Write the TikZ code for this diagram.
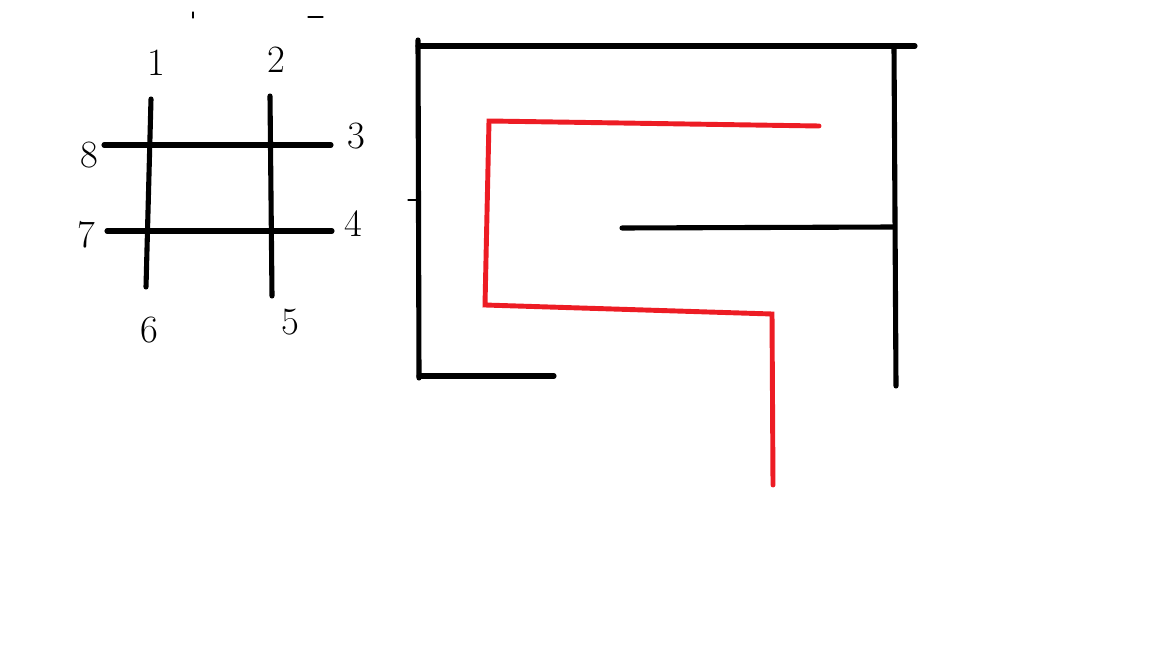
\documentclass[tikz,border=0pt]{standalone}
\usepackage{tikz}
\usetikzlibrary{positioning}
\definecolor{PathRed}{HTML}{ED1C24}
\begin{document}
\begin{tikzpicture}[x=0.02cm,y=-0.02cm,line cap=round,
    wall/.style={line width=2.9pt,black},
    grid/.style={line width=2.9pt,black},
    route/.style={line width=2.8pt,PathRed,line join=miter},
    stray/.style={line width=0.7pt,black},
    num/.style={font=\fontsize{22}{26}\selectfont,inner sep=0pt}]
  \useasboundingbox[fill=white] (0,0) rectangle (1152,648);
  % stray marks
  \draw[stray] (193,12) -- (193,18);
  \draw[stray] (308,17) -- (323,17);
  \draw[stray] (408,200) -- (418,200);
  % grid
  \draw[grid] (151,99) -- (146,287);
  \draw[grid] (270,96) -- (272,296);
  \draw[grid] (104,145) -- (331,145);
  \draw[grid] (107,231) -- (332,231);
  \node[num] (n1) at (156,63) {1};
  \node[num] (n2) at (276,60) {2};
  \node[num] (n3) at (356,136) {3};
  \node[num] (n4) at (353,224) {4};
  \node[num] (n5) at (290,322) {5};
  \node[num] (n6) at (149,330) {6};
  \node[num] (n7) at (86,235) {7};
  \node[num] (n8) at (89,155) {8};
  % maze walls
  \draw[wall] (418,40) -- (419,378);
  \draw[wall] (418,46) -- (915,46);
  \draw[wall] (894,48) -- (896,386);
  \draw[wall] (419,376) -- (554,376);
  \draw[wall] (622,228) -- (894,227);
  % red route
  \draw[route] (819,126) -- (489,121) -- (485,305) -- (772,314) -- (773,485);
\end{tikzpicture}
\end{document}
